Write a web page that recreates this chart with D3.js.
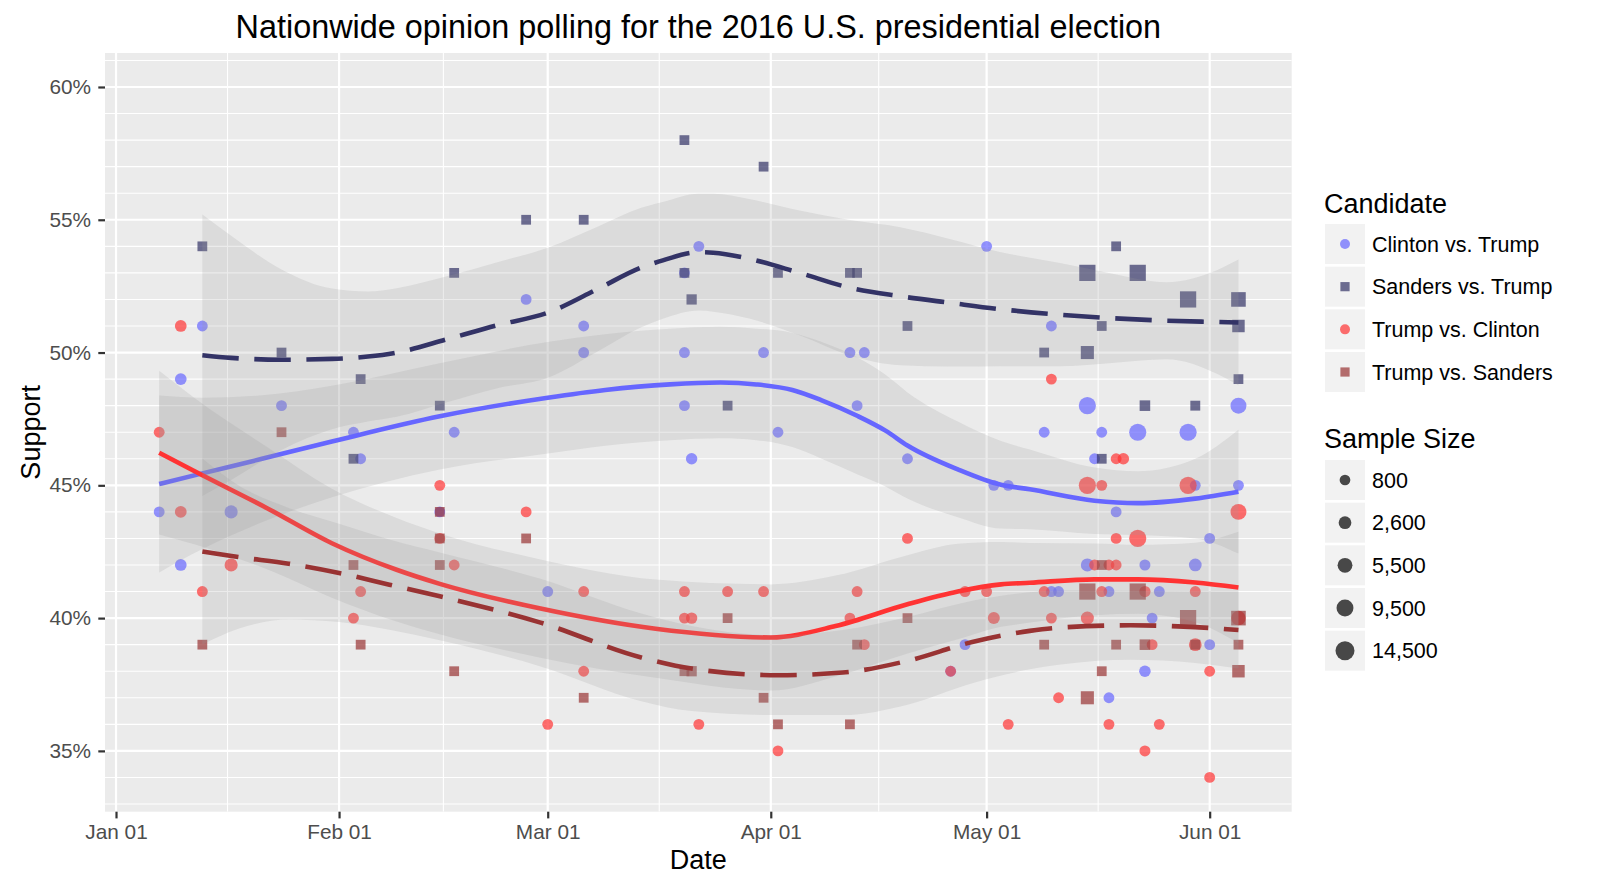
<!DOCTYPE html>
<html>
<head>
<meta charset="utf-8">
<title>Nationwide opinion polling for the 2016 U.S. presidential election</title>
<script src="https://cdn.jsdelivr.net/npm/d3@7/dist/d3.min.js"></script>
<style>
html,body{margin:0;padding:0;background:#fff;}
svg{display:block;}
text{font-family:"Liberation Sans",Arial,Helvetica,sans-serif;}
</style>
</head>
<body>
<svg id="chart" width="1600" height="889"></svg>
<script>
// ---------------- DATA ----------------
const chartTitle = "Nationwide opinion polling for the 2016 U.S. presidential election";
const categories = ["Clinton vs. Trump", "Sanders vs. Trump", "Trump vs. Clinton", "Trump vs. Sanders"];

const xTickDates = ["2016-01-01","2016-02-01","2016-03-01","2016-04-01","2016-05-01","2016-06-01"];
const xTickLabels = ["Jan 01","Feb 01","Mar 01","Apr 01","May 01","Jun 01"];
const yTickValues = [35, 40, 45, 50, 55, 60];
const yTickLabels = ["35%","40%","45%","50%","55%","60%"];
const sizeBreaks = [800, 2600, 5500, 9500, 14500];
const sizeLabels = ["800", "2,600", "5,500", "9,500", "14,500"];

// [date, support %, sample size]
const clintonVsTrump = [
  ["2016-01-07",44,900],["2016-01-10",49,1600],["2016-01-10",42,1600],["2016-01-13",51,900],
  ["2016-01-17",44,3000],["2016-01-24",48,900],["2016-02-03",47,900],["2016-02-04",46,900],
  ["2016-02-15",44,900],["2016-02-17",47,900],["2016-02-27",52,900],
  ["2016-03-01",41,900],["2016-03-06",51,900],["2016-03-06",50,900],["2016-03-20",53,900],
  ["2016-03-20",50,900],["2016-03-20",48,900],["2016-03-21",46,1300],["2016-03-22",54,900],
  ["2016-03-31",50,900],["2016-04-02",47,900],["2016-04-12",50,900],["2016-04-13",48,900],
  ["2016-04-14",50,900],["2016-04-20",46,900],["2016-04-26",38,900],["2016-04-28",39,900],
  ["2016-05-01",54,900],["2016-05-02",45,900],["2016-05-04",45,900],["2016-05-09",47,900],
  ["2016-05-10",51,900],["2016-05-10",41,900],["2016-05-11",41,900],["2016-05-15",48,10000],
  ["2016-05-15",42,3000],["2016-05-16",46,900],["2016-05-17",47,900],["2016-05-18",41,900],
  ["2016-05-18",37,900],["2016-05-19",44,900],["2016-05-22",47,10000],["2016-05-23",42,1000],
  ["2016-05-23",38,1400],["2016-05-24",40,900],["2016-05-25",41,900],["2016-05-29",47,10000],
  ["2016-05-30",45,900],["2016-05-30",42,2600],["2016-06-01",43,900],["2016-06-01",39,900],
  ["2016-06-05",48,7500],["2016-06-05",45,900]
];
const sandersVsTrump = [
  ["2016-01-13",54,900],["2016-01-24",50,900],["2016-02-03",46,900],["2016-02-04",49,900],
  ["2016-02-15",48,900],["2016-02-17",53,900],["2016-02-27",55,900],["2016-03-06",55,900],
  ["2016-03-20",58,900],["2016-03-20",53,900],["2016-03-21",52,1300],["2016-03-26",48,900],
  ["2016-03-31",57,900],["2016-04-02",53,900],["2016-04-12",53,900],["2016-04-13",53,900],
  ["2016-04-20",51,900],["2016-05-09",50,900],["2016-05-15",53,12000],["2016-05-15",50,5000],
  ["2016-05-17",51,900],["2016-05-17",46,900],["2016-05-19",54,900],["2016-05-22",53,12000],
  ["2016-05-23",48,1600],["2016-05-29",52,12000],["2016-05-30",48,1000],["2016-06-05",52,8000],
  ["2016-06-05",51,4000],["2016-06-05",49,900]
];
const trumpVsClinton = [
  ["2016-01-07",47,900],["2016-01-10",51,1600],["2016-01-10",44,1600],["2016-01-13",41,900],
  ["2016-01-17",42,3000],["2016-02-03",40,900],["2016-02-04",41,900],["2016-02-15",45,900],
  ["2016-02-15",43,900],["2016-02-17",42,900],["2016-02-27",44,900],["2016-03-01",36,900],
  ["2016-03-06",41,900],["2016-03-06",38,900],["2016-03-20",41,900],["2016-03-20",40,900],
  ["2016-03-21",40,1300],["2016-03-22",36,900],["2016-03-26",41,900],["2016-03-31",41,900],
  ["2016-04-02",35,900],["2016-04-12",40,900],["2016-04-13",41,900],["2016-04-14",39,900],
  ["2016-04-20",43,900],["2016-04-26",38,900],["2016-04-28",41,900],["2016-05-01",41,900],
  ["2016-05-02",40,1800],["2016-05-04",36,900],["2016-05-09",41,900],["2016-05-10",49,900],
  ["2016-05-10",40,900],["2016-05-11",37,900],["2016-05-15",45,10000],["2016-05-15",40,3000],
  ["2016-05-16",42,900],["2016-05-17",45,900],["2016-05-17",41,900],["2016-05-18",42,900],
  ["2016-05-18",36,900],["2016-05-19",46,900],["2016-05-19",43,900],["2016-05-19",42,900],
  ["2016-05-20",46,1400],["2016-05-22",43,10000],["2016-05-23",41,1200],["2016-05-23",35,1000],
  ["2016-05-24",39,900],["2016-05-25",36,900],["2016-05-29",45,10000],["2016-05-30",41,900],
  ["2016-05-30",39,2600],["2016-06-01",38,900],["2016-06-01",34,900],["2016-06-05",44,7500],
  ["2016-06-05",40,5000]
];
const trumpVsSanders = [
  ["2016-01-13",39,900],["2016-01-24",47,900],["2016-02-03",42,900],["2016-02-04",39,900],
  ["2016-02-15",44,900],["2016-02-15",43,900],["2016-02-15",42,900],["2016-02-17",38,900],
  ["2016-02-27",43,900],["2016-03-06",37,900],["2016-03-20",38,900],["2016-03-21",38,1300],
  ["2016-03-26",40,900],["2016-03-31",37,900],["2016-04-02",36,900],["2016-04-12",36,900],
  ["2016-04-13",39,900],["2016-04-20",40,900],["2016-05-09",39,900],["2016-05-15",41,12000],
  ["2016-05-15",37,5000],["2016-05-17",42,900],["2016-05-17",38,900],["2016-05-19",39,900],
  ["2016-05-22",41,12000],["2016-05-23",39,1600],["2016-05-29",40,12000],["2016-05-30",39,1000],
  ["2016-06-05",40,8000],["2016-06-05",39,900],["2016-06-05",38,4000]
];

// smoothed trend: [date, fitted %, half-width of confidence band]
const clintonSmooth = [
  ["2016-01-07",45.05,3.33],["2016-01-13",45.45,2.85],["2016-01-21",45.98,2.4],["2016-01-31",46.65,2.1],
  ["2016-02-15",47.6,2.0],["2016-03-01",48.3,2.1],["2016-03-09",48.59,2.1],["2016-03-18",48.8,2.1],
  ["2016-03-25",48.87,2.1],["2016-03-30",48.8,2.1],["2016-04-04",48.59,2.15],["2016-04-08",48.21,2.2],
  ["2016-04-13",47.62,2.2],["2016-04-17",47.05,2.1],["2016-04-20",46.5,2.0],["2016-04-27",45.6,1.8],
  ["2016-05-03",45.02,1.65],["2016-05-07",44.85,1.5],["2016-05-16",44.42,1.25],["2016-05-22",44.33,1.2],
  ["2016-05-30",44.5,1.5],["2016-06-05",44.76,2.33]
];
const sandersSmooth = [
  ["2016-01-13",49.9,5.3],["2016-01-17",49.8,4.6],["2016-01-24",49.73,3.4],["2016-01-31",49.76,2.65],
  ["2016-02-05",49.85,2.45],["2016-02-09",50.0,2.42],["2016-02-16",50.5,2.37],["2016-02-23",51.03,2.37],
  ["2016-03-01",51.5,2.45],["2016-03-08",52.4,2.35],["2016-03-14",53.2,2.25],["2016-03-17",53.47,2.2],
  ["2016-03-22",53.78,2.2],["2016-03-24",53.76,2.22],["2016-03-29",53.53,2.25],["2016-04-05",53.0,2.35],
  ["2016-04-12",52.44,2.55],["2016-04-19",52.12,2.6],["2016-04-26",51.87,2.4],["2016-05-03",51.63,2.15],
  ["2016-05-11",51.43,1.95],["2016-05-18",51.3,1.7],["2016-05-26",51.2,1.45],["2016-06-02",51.15,1.95],
  ["2016-06-05",51.13,2.37]
];
const trumpClintonSmooth = [
  ["2016-01-07",46.23,3.08],["2016-01-12",45.52,2.75],["2016-01-22",44.14,2.3],["2016-01-31",42.82,2.05],
  ["2016-02-09",41.82,1.95],["2016-02-15",41.29,1.9],["2016-02-29",40.36,1.85],["2016-03-16",39.6,1.85],
  ["2016-04-01",39.27,2.0],["2016-04-10",39.7,1.9],["2016-04-20",40.52,1.85],["2016-04-27",41.0,1.8],
  ["2016-05-03",41.27,1.6],["2016-05-07",41.33,1.5],["2016-05-16",41.46,1.35],["2016-05-22",41.46,1.3],
  ["2016-05-30",41.34,1.5],["2016-06-05",41.15,2.1]
];
const trumpSandersSmooth = [
  ["2016-01-13",42.51,3.5],["2016-01-18",42.3,2.7],["2016-01-25",42.05,2.1],["2016-02-01",41.7,1.85],
  ["2016-02-08",41.26,1.7],["2016-02-15",40.82,1.65],["2016-02-29",39.83,1.65],["2016-03-14",38.52,1.65],
  ["2016-03-21",38.1,1.6],["2016-04-02",37.85,1.5],["2016-04-11",37.95,1.6],["2016-04-20",38.39,1.65],
  ["2016-04-29",39.1,1.55],["2016-05-07",39.52,1.45],["2016-05-11",39.64,1.4],["2016-05-21",39.73,1.3],
  ["2016-05-30",39.66,1.35],["2016-06-05",39.55,1.45]
];

// ---------------- STYLE ----------------
const seriesColors = ["#6666FF", "#333366", "#FF3333", "#993333"];
const seriesShapes = ["circle", "square", "circle", "square"];
const seriesDashed = [false, true, false, true];

const allPoints = [clintonVsTrump, sandersVsTrump, trumpVsClinton, trumpVsSanders];
const allSmooth = [clintonSmooth, sandersSmooth, trumpClintonSmooth, trumpSandersSmooth];

const DAY = 864e5;
const JAN1 = Date.UTC(2016, 0, 1);
const parse = d3.utcParse("%Y-%m-%d");
const P = {l: 105, r: 1291.7, t: 53, b: 811.7};
const FONT_AXIS = 20.8, FONT_LEG = 21.5, FONT_TITLE = 27;

const x = d3.scaleUtc()
  .domain([new Date(JAN1 - 1.53 * DAY), new Date(JAN1 + 163.4 * DAY)])
  .range([P.l, P.r]);
const y = d3.scaleLinear().domain([32.71, 61.28]).range([P.b, P.t]);
const size = d3.scaleSqrt().domain([800, 14500]).range([10.7, 19]);
const SQ = 0.9;

const svg = d3.select("#chart");
svg.append("rect").attr("width", 1600).attr("height", 889).attr("fill", "#fff");

// panel
svg.append("defs").append("clipPath").attr("id", "panel")
  .append("rect").attr("x", P.l).attr("y", P.t).attr("width", P.r - P.l).attr("height", P.b - P.t);
svg.append("rect").attr("x", P.l).attr("y", P.t).attr("width", P.r - P.l).attr("height", P.b - P.t)
  .attr("fill", "#EBEBEB");

const grid = svg.append("g").attr("clip-path", "url(#panel)").attr("stroke", "#fff");
const majorDates = xTickDates.map(parse);
const minorDates = d3.pairs(majorDates).map(([a, b]) => new Date((+a + +b) / 2));
const minorY = d3.range(33, 62).filter(v => v % 5 !== 0);
grid.selectAll("line.ymin").data(minorY).join("line").attr("class", "ymin")
  .attr("x1", P.l).attr("x2", P.r).attr("y1", d => y(d)).attr("y2", d => y(d)).attr("stroke-width", 1.1);
grid.selectAll("line.xmin").data(minorDates).join("line").attr("class", "xmin")
  .attr("y1", P.t).attr("y2", P.b).attr("x1", d => x(d)).attr("x2", d => x(d)).attr("stroke-width", 1.1);
grid.selectAll("line.ymaj").data(yTickValues).join("line").attr("class", "ymaj")
  .attr("x1", P.l).attr("x2", P.r).attr("y1", d => y(d)).attr("y2", d => y(d)).attr("stroke-width", 2.2);
grid.selectAll("line.xmaj").data(majorDates).join("line").attr("class", "xmaj")
  .attr("y1", P.t).attr("y2", P.b).attr("x1", d => x(d)).attr("x2", d => x(d)).attr("stroke-width", 2.2);

// points
const plot = svg.append("g").attr("clip-path", "url(#panel)");
allPoints.forEach((data, i) => {
  const g = plot.append("g").attr("fill", seriesColors[i]).attr("fill-opacity", 0.7);
  if (seriesShapes[i] === "circle") {
    g.selectAll("circle").data(data).join("circle")
      .attr("cx", d => x(parse(d[0]))).attr("cy", d => y(d[1])).attr("r", d => size(d[2]) / 2);
  } else {
    g.selectAll("rect").data(data).join("rect")
      .attr("x", d => x(parse(d[0])) - size(d[2]) * SQ / 2)
      .attr("y", d => y(d[1]) - size(d[2]) * SQ / 2)
      .attr("width", d => size(d[2]) * SQ).attr("height", d => size(d[2]) * SQ);
  }
});

// smooth ribbons + lines
allSmooth.forEach((s, i) => {
  const area = d3.area()
    .x(d => x(parse(d[0]))).y0(d => y(d[1] - d[2])).y1(d => y(d[1] + d[2]))
    .curve(d3.curveMonotoneX);
  plot.append("path").datum(s).attr("d", area).attr("fill", "#999999").attr("fill-opacity", 0.2);
  const line = d3.line().x(d => x(parse(d[0]))).y(d => y(d[1])).curve(d3.curveMonotoneX);
  plot.append("path").datum(s).attr("d", line).attr("fill", "none")
    .attr("stroke", seriesColors[i]).attr("stroke-width", 4.6)
    .attr("stroke-dasharray", seriesDashed[i] ? "36.5 15.6" : null);
});

// axes
const xAxis = d3.axisBottom(x).tickValues(majorDates).tickFormat((d, i) => xTickLabels[i])
  .tickSize(6.7).tickPadding(5.8);
const gx = svg.append("g").attr("transform", `translate(0,${P.b})`).call(xAxis);
const yAxis = d3.axisLeft(y).tickValues(yTickValues).tickFormat((d, i) => yTickLabels[i])
  .tickSize(6.7).tickPadding(7.3);
const gy = svg.append("g").attr("transform", `translate(${P.l},0)`).call(yAxis);
[gx, gy].forEach(g => {
  g.select(".domain").remove();
  g.selectAll(".tick line").attr("stroke", "#333333").attr("stroke-width", 2.2);
  g.selectAll(".tick text").attr("fill", "#4D4D4D").attr("font-size", FONT_AXIS)
    .attr("font-family", "'Liberation Sans', Arial, sans-serif");
});

// titles
svg.append("text").attr("x", (P.l + P.r) / 2).attr("y", 38).attr("text-anchor", "middle")
  .attr("font-size", 32.4).attr("fill", "#000").text(chartTitle);
svg.append("text").attr("x", (P.l + P.r) / 2).attr("y", 869).attr("text-anchor", "middle")
  .attr("font-size", FONT_TITLE).attr("fill", "#000").text("Date");
svg.append("text").attr("transform", `translate(40,${(P.t + P.b) / 2}) rotate(-90)`)
  .attr("text-anchor", "middle").attr("font-size", FONT_TITLE).attr("fill", "#000").text("Support");

// legend: Candidate
const LX = 1325, KEY = 40, PITCH = 42.67;
const leg = svg.append("g");
leg.append("text").attr("x", LX - 1).attr("y", 213).attr("font-size", FONT_TITLE).text("Candidate");
categories.forEach((c, i) => {
  const top = 224 + i * PITCH;
  leg.append("rect").attr("x", LX).attr("y", top).attr("width", KEY).attr("height", KEY).attr("fill", "#F2F2F2");
  const cx = LX + KEY / 2, cy = top + KEY / 2;
  if (seriesShapes[i] === "circle") {
    leg.append("circle").attr("cx", cx).attr("cy", cy).attr("r", 5)
      .attr("fill", seriesColors[i]).attr("fill-opacity", 0.7);
  } else {
    leg.append("rect").attr("x", cx - 4.6).attr("y", cy - 4.6).attr("width", 9.2).attr("height", 9.2)
      .attr("fill", seriesColors[i]).attr("fill-opacity", 0.7);
  }
  leg.append("text").attr("x", LX + 47).attr("y", cy).attr("dy", "0.35em")
    .attr("font-size", FONT_LEG).text(c);
});

// legend: Sample Size
leg.append("text").attr("x", LX - 1).attr("y", 448).attr("font-size", FONT_TITLE).text("Sample Size");
sizeBreaks.forEach((n, i) => {
  const top = 460 + i * PITCH;
  leg.append("rect").attr("x", LX).attr("y", top).attr("width", KEY).attr("height", KEY).attr("fill", "#F2F2F2");
  leg.append("circle").attr("cx", LX + KEY / 2).attr("cy", top + KEY / 2).attr("r", size(n) / 2)
    .attr("fill", "#000").attr("fill-opacity", 0.7);
  leg.append("text").attr("x", LX + 47).attr("y", top + KEY / 2).attr("dy", "0.35em")
    .attr("font-size", FONT_LEG).text(sizeLabels[i]);
});
</script>
</body>
</html>
